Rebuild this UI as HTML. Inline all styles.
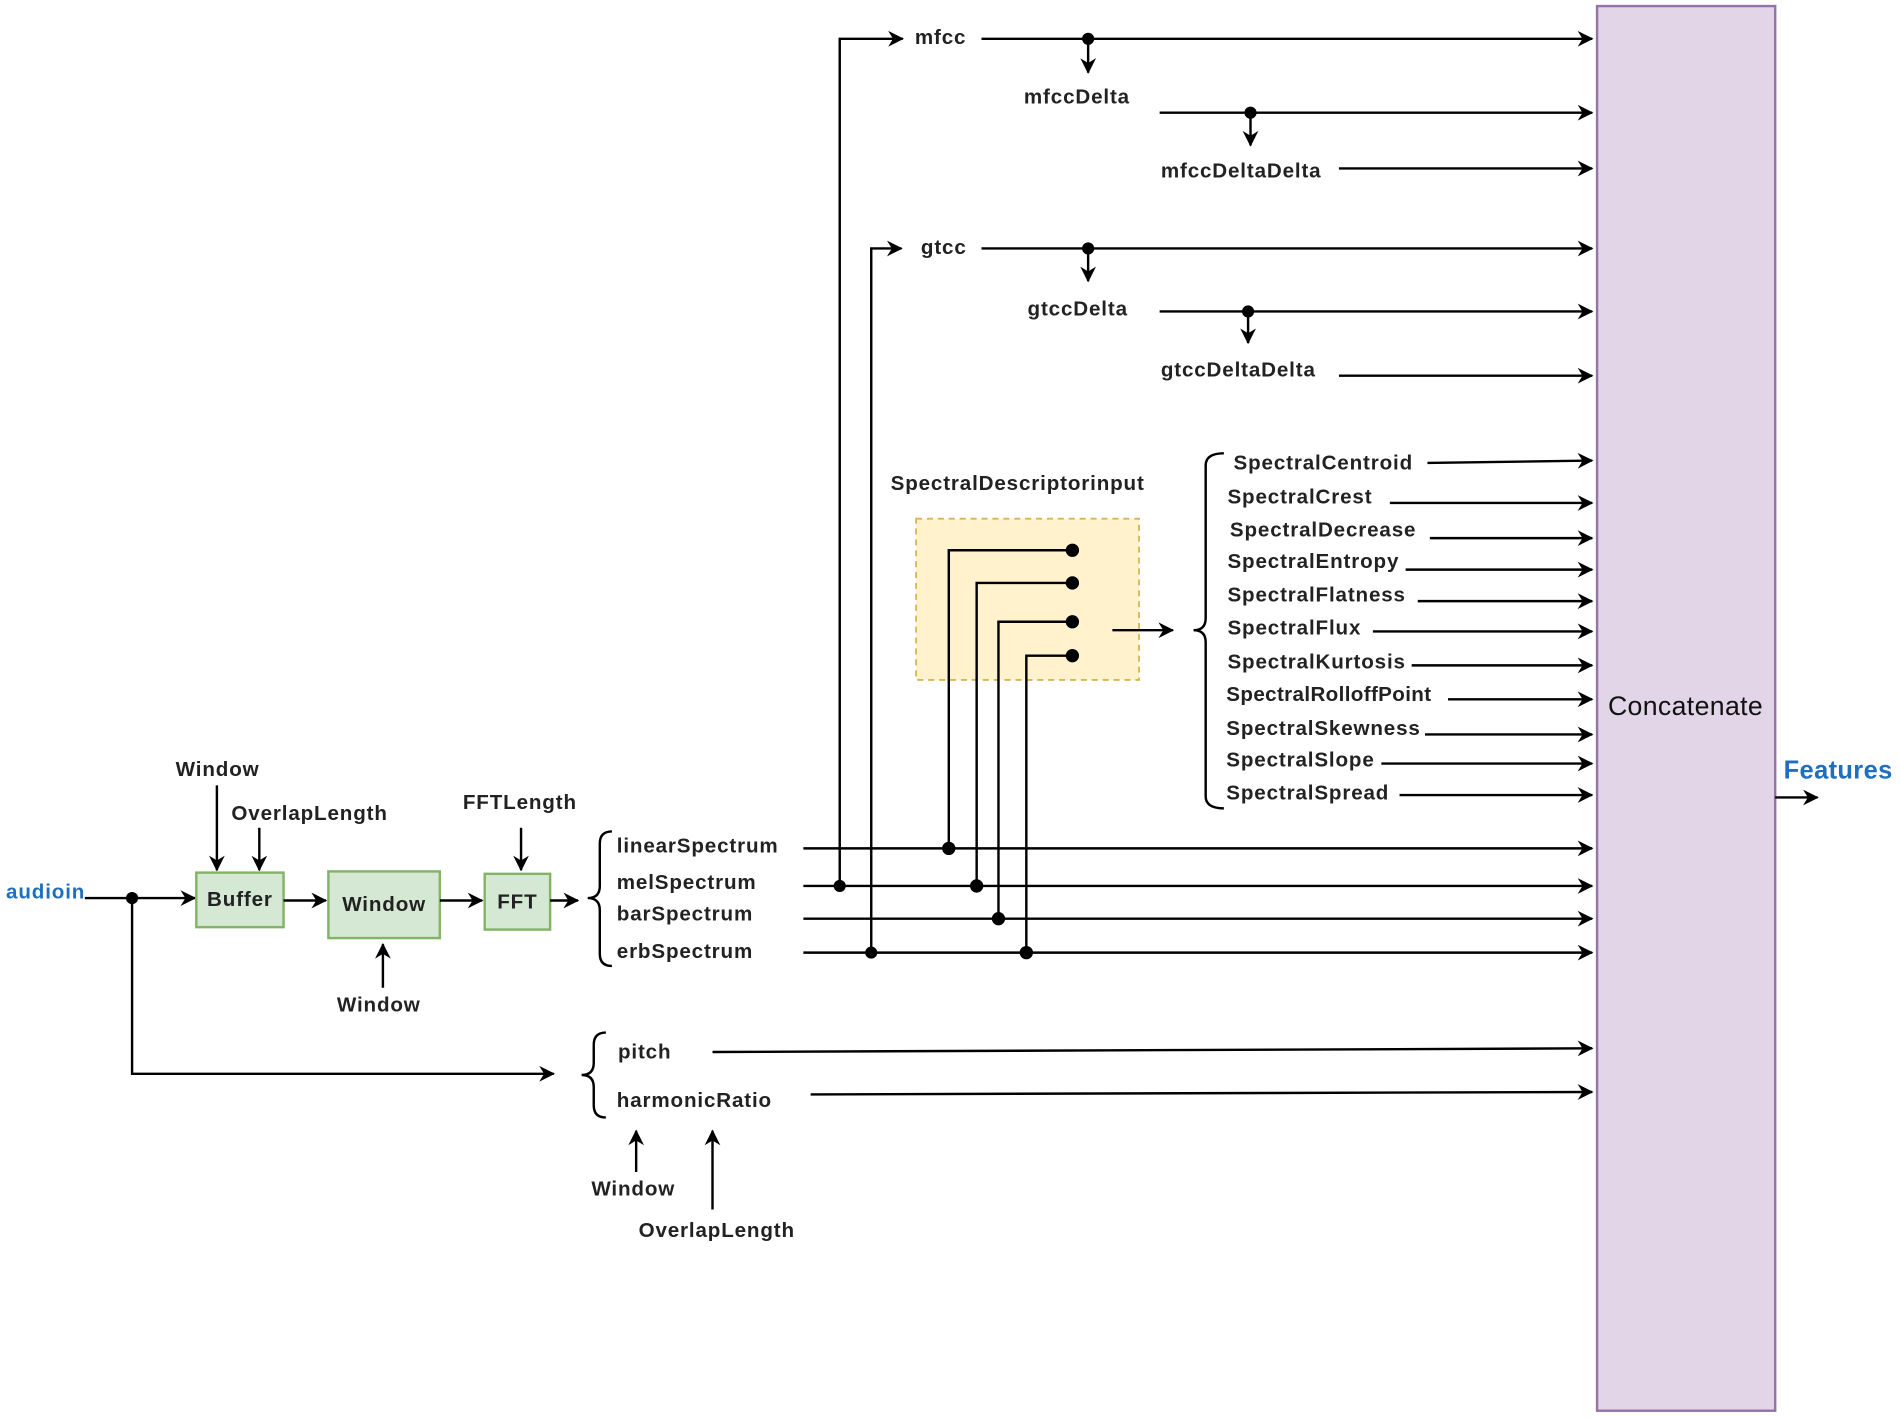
<!DOCTYPE html>
<html><head><meta charset="utf-8"><style>
html,body{margin:0;padding:0;background:#fff;}
svg{display:block;}
text{font-family:"Liberation Sans",sans-serif;font-weight:bold;font-size:17px;letter-spacing:0.7px;fill:#222;dominant-baseline:middle;}
.l{stroke:#000;stroke-width:2;fill:none;}
</style></head><body>
<svg width="1900" height="1418" viewBox="0 0 1568 1170" preserveAspectRatio="none" xmlns="http://www.w3.org/2000/svg">
<defs><marker id="a" markerWidth="13" markerHeight="13" refX="12" refY="6.5" orient="auto" markerUnits="userSpaceOnUse"><path d="M0,0 L13,6.5 L0,13 L4,6.5 z" fill="#000"/></marker></defs>
<rect x="1318" y="5" width="147" height="1159" fill="#e1d5e7" stroke="#9673a6" stroke-width="2"/>
<text x="1391" y="584" text-anchor="middle" style="font-size:22px;letter-spacing:0.3px;font-weight:normal;fill:#111">Concatenate</text>
<text x="1472" y="637" style="font-size:21px;letter-spacing:0.3px;fill:#1f6fbf">Features</text>
<line class="l" x1="1465" y1="658" x2="1500" y2="658" marker-end="url(#a)"/>
<text x="5" y="737" style="fill:#1f6fbf">audioin</text>
<line class="l" x1="70" y1="741" x2="161" y2="741" marker-end="url(#a)"/>
<circle cx="109" cy="741" r="5"/>
<polyline class="l" points="109,741 109,886 457,886" marker-end="url(#a)"/>
<g fill="#d5e8d4" stroke="#82b366" stroke-width="2">
<rect x="162" y="720" width="72" height="45"/><rect x="271" y="719" width="92" height="55"/><rect x="400" y="721" width="54" height="46"/></g>
<text x="198" y="743" text-anchor="middle">Buffer</text>
<text x="317" y="747" text-anchor="middle">Window</text>
<text x="427" y="745" text-anchor="middle">FFT</text>
<line class="l" x1="234" y1="743" x2="269" y2="743" marker-end="url(#a)"/>
<line class="l" x1="363" y1="743" x2="398" y2="743" marker-end="url(#a)"/>
<line class="l" x1="454" y1="743" x2="477" y2="743" marker-end="url(#a)"/>
<text x="145" y="636">Window</text>
<line class="l" x1="179" y1="648" x2="179" y2="718" marker-end="url(#a)"/>
<text x="191" y="672">OverlapLength</text>
<line class="l" x1="214" y1="683" x2="214" y2="718" marker-end="url(#a)"/>
<text x="382" y="663">FFTLength</text>
<line class="l" x1="430" y1="683" x2="430" y2="718" marker-end="url(#a)"/>
<line class="l" x1="316" y1="815" x2="316" y2="779" marker-end="url(#a)"/>
<text x="278" y="830">Window</text>
<path class="l" stroke-width="1.5" d="M505,686 Q495,686 495,696 L495,731 Q495,741 485,741 Q495,741 495,751 L495,787 Q495,797 505,797"/>
<text x="509" y="699">linearSpectrum</text>
<text x="509" y="729">melSpectrum</text>
<text x="509" y="755">barSpectrum</text>
<text x="509" y="786">erbSpectrum</text>
<line class="l" x1="663" y1="700" x2="1314" y2="700" marker-end="url(#a)"/>
<line class="l" x1="663" y1="731" x2="1314" y2="731" marker-end="url(#a)"/>
<line class="l" x1="663" y1="758" x2="1314" y2="758" marker-end="url(#a)"/>
<line class="l" x1="663" y1="786" x2="1314" y2="786" marker-end="url(#a)"/>
<polyline class="l" points="693,731 693,32 745,32" marker-end="url(#a)"/>
<circle cx="693" cy="731" r="5"/>
<polyline class="l" points="719,786 719,205 744,205" marker-end="url(#a)"/>
<circle cx="719" cy="786" r="5"/>
<text x="755" y="32">mfcc</text>
<line class="l" x1="810" y1="32" x2="1314" y2="32" marker-end="url(#a)"/>
<circle cx="898" cy="32" r="5"/><line class="l" x1="898" y1="32" x2="898" y2="60" marker-end="url(#a)"/>
<text x="845" y="81">mfccDelta</text>
<line class="l" x1="957" y1="93" x2="1314" y2="93" marker-end="url(#a)"/>
<circle cx="1032" cy="93" r="5"/><line class="l" x1="1032" y1="93" x2="1032" y2="120" marker-end="url(#a)"/>
<text x="958" y="142">mfccDeltaDelta</text>
<line class="l" x1="1105" y1="139" x2="1314" y2="139" marker-end="url(#a)"/>
<text x="760" y="205">gtcc</text>
<line class="l" x1="810" y1="205" x2="1314" y2="205" marker-end="url(#a)"/>
<circle cx="898" cy="205" r="5"/><line class="l" x1="898" y1="205" x2="898" y2="232" marker-end="url(#a)"/>
<text x="848" y="256">gtccDelta</text>
<line class="l" x1="957" y1="257" x2="1314" y2="257" marker-end="url(#a)"/>
<circle cx="1030" cy="257" r="5"/><line class="l" x1="1030" y1="257" x2="1030" y2="283" marker-end="url(#a)"/>
<text x="958" y="306">gtccDeltaDelta</text>
<line class="l" x1="1105" y1="310" x2="1314" y2="310" marker-end="url(#a)"/>
<text x="735" y="400">SpectralDescriptorinput</text>
<rect x="756" y="428" width="184" height="133" fill="#fff2cc" stroke="#d6b656" stroke-width="1.5" stroke-dasharray="5,4"/>
<polyline class="l" points="885,454 783,454 783,700"/><circle cx="885" cy="454" r="5.5"/><circle cx="783" cy="700" r="5.5"/>
<polyline class="l" points="885,481 806,481 806,731"/><circle cx="885" cy="481" r="5.5"/><circle cx="806" cy="731" r="5.5"/>
<polyline class="l" points="885,513 824,513 824,758"/><circle cx="885" cy="513" r="5.5"/><circle cx="824" cy="758" r="5.5"/>
<polyline class="l" points="885,541 847,541 847,786"/><circle cx="885" cy="541" r="5.5"/><circle cx="847" cy="786" r="5.5"/>
<line class="l" x1="918" y1="520" x2="968" y2="520" marker-end="url(#a)"/>
<path class="l" stroke-width="1.5" d="M1010,374 Q995,374 995,384 L995,510 Q995,520 985,520 Q995,520 995,530 L995,657 Q995,667 1010,667"/>
<text x="1018" y="383">SpectralCentroid</text><line class="l" x1="1178" y1="382" x2="1314" y2="380" marker-end="url(#a)"/>
<text x="1013" y="411">SpectralCrest</text><line class="l" x1="1147" y1="415" x2="1314" y2="415" marker-end="url(#a)"/>
<text x="1015" y="438">SpectralDecrease</text><line class="l" x1="1180" y1="444" x2="1314" y2="444" marker-end="url(#a)"/>
<text x="1013" y="464">SpectralEntropy</text><line class="l" x1="1160" y1="470" x2="1314" y2="470" marker-end="url(#a)"/>
<text x="1013" y="492">SpectralFlatness</text><line class="l" x1="1170" y1="496" x2="1314" y2="496" marker-end="url(#a)"/>
<text x="1013" y="519">SpectralFlux</text><line class="l" x1="1133" y1="521" x2="1314" y2="521" marker-end="url(#a)"/>
<text x="1013" y="547">SpectralKurtosis</text><line class="l" x1="1165" y1="549" x2="1314" y2="549" marker-end="url(#a)"/>
<text x="1012" y="574" style="letter-spacing:0.3px">SpectralRolloffPoint</text><line class="l" x1="1195" y1="577" x2="1314" y2="577" marker-end="url(#a)"/>
<text x="1012" y="602">SpectralSkewness</text><line class="l" x1="1176" y1="606" x2="1314" y2="606" marker-end="url(#a)"/>
<text x="1012" y="628">SpectralSlope</text><line class="l" x1="1140" y1="630" x2="1314" y2="630" marker-end="url(#a)"/>
<text x="1012" y="655">SpectralSpread</text><line class="l" x1="1155" y1="656" x2="1314" y2="656" marker-end="url(#a)"/>
<path class="l" stroke-width="1.5" d="M500,852 Q490,852 490,862 L490,877 Q490,887 480,887 Q490,887 490,897 L490,912 Q490,922 500,922"/>
<text x="510" y="869">pitch</text><line class="l" x1="588" y1="868" x2="1314" y2="865" marker-end="url(#a)"/>
<text x="509" y="909">harmonicRatio</text><line class="l" x1="669" y1="903" x2="1314" y2="901" marker-end="url(#a)"/>
<line class="l" x1="525" y1="967" x2="525" y2="933" marker-end="url(#a)"/>
<text x="488" y="982">Window</text>
<line class="l" x1="588" y1="998" x2="588" y2="933" marker-end="url(#a)"/>
<text x="527" y="1016">OverlapLength</text>
</svg>
</body></html>
